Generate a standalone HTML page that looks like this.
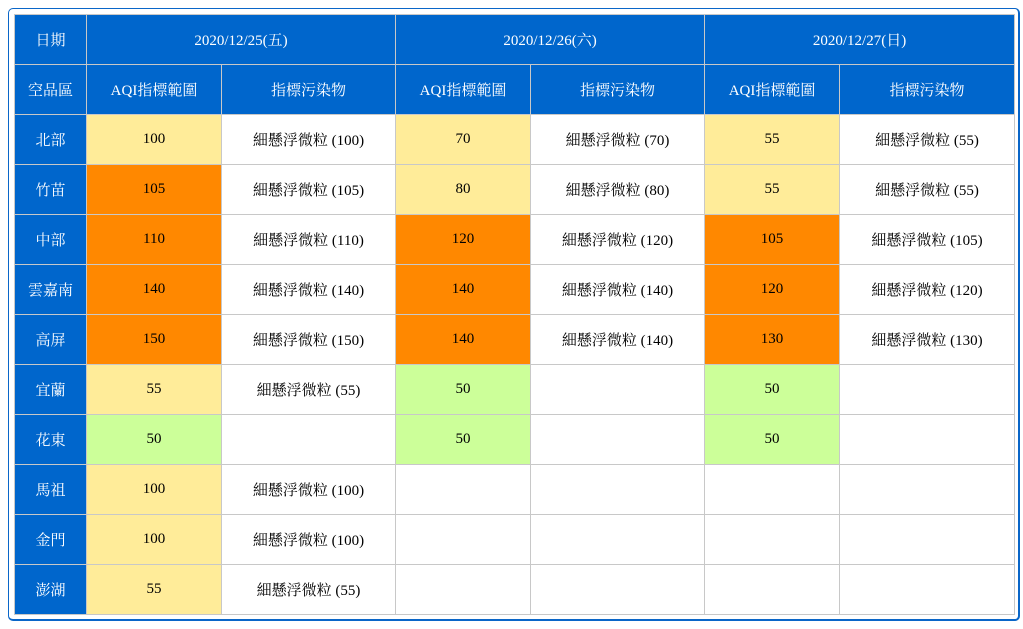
<!DOCTYPE html>
<html><head><meta charset="utf-8">
<style>
body{margin:0;background:#fff;width:1023px;height:629px;overflow:hidden;position:relative}
.frame{position:absolute;left:8px;top:8px;width:1009px;height:610px;border:2px solid #0a66c8;border-radius:5px;box-sizing:content-box;border-width:1px 2px 2px 1px}
table{position:absolute;left:14px;top:14px;border-collapse:collapse;table-layout:fixed;width:1000px;font-family:"Liberation Serif","Noto Serif CJK SC","Noto Sans CJK TC",serif;font-size:15px;color:#000}
td{border:1px solid #c8c8c8;height:49px;padding:0;text-align:center;vertical-align:middle}
.h{background:#0066cc;color:#fff}
.y{background:#ffec99}.o{background:#ff8800}.g{background:#ccff99}
</style></head><body>
<div class="frame"></div>
<table>
<colgroup><col style="width:72px"><col style="width:135px"><col style="width:174px"><col style="width:135px"><col style="width:174px"><col style="width:135px"><col style="width:175px"></colgroup>
<tr><td class="h">日期</td><td class="h" colspan="2">2020/12/25(五)</td><td class="h" colspan="2">2020/12/26(六)</td><td class="h" colspan="2">2020/12/27(日)</td></tr>
<tr><td class="h">空品區</td><td class="h">AQI指標範圍</td><td class="h">指標污染物</td><td class="h">AQI指標範圍</td><td class="h">指標污染物</td><td class="h">AQI指標範圍</td><td class="h">指標污染物</td></tr>
<tr><td class="h">北部</td><td class="y">100</td><td>細懸浮微粒 (100)</td><td class="y">70</td><td>細懸浮微粒 (70)</td><td class="y">55</td><td>細懸浮微粒 (55)</td></tr>
<tr><td class="h">竹苗</td><td class="o">105</td><td>細懸浮微粒 (105)</td><td class="y">80</td><td>細懸浮微粒 (80)</td><td class="y">55</td><td>細懸浮微粒 (55)</td></tr>
<tr><td class="h">中部</td><td class="o">110</td><td>細懸浮微粒 (110)</td><td class="o">120</td><td>細懸浮微粒 (120)</td><td class="o">105</td><td>細懸浮微粒 (105)</td></tr>
<tr><td class="h">雲嘉南</td><td class="o">140</td><td>細懸浮微粒 (140)</td><td class="o">140</td><td>細懸浮微粒 (140)</td><td class="o">120</td><td>細懸浮微粒 (120)</td></tr>
<tr><td class="h">高屏</td><td class="o">150</td><td>細懸浮微粒 (150)</td><td class="o">140</td><td>細懸浮微粒 (140)</td><td class="o">130</td><td>細懸浮微粒 (130)</td></tr>
<tr><td class="h">宜蘭</td><td class="y">55</td><td>細懸浮微粒 (55)</td><td class="g">50</td><td></td><td class="g">50</td><td></td></tr>
<tr><td class="h">花東</td><td class="g">50</td><td></td><td class="g">50</td><td></td><td class="g">50</td><td></td></tr>
<tr><td class="h">馬祖</td><td class="y">100</td><td>細懸浮微粒 (100)</td><td></td><td></td><td></td><td></td></tr>
<tr><td class="h">金門</td><td class="y">100</td><td>細懸浮微粒 (100)</td><td></td><td></td><td></td><td></td></tr>
<tr><td class="h">澎湖</td><td class="y">55</td><td>細懸浮微粒 (55)</td><td></td><td></td><td></td><td></td></tr>
</table>
</body></html>
